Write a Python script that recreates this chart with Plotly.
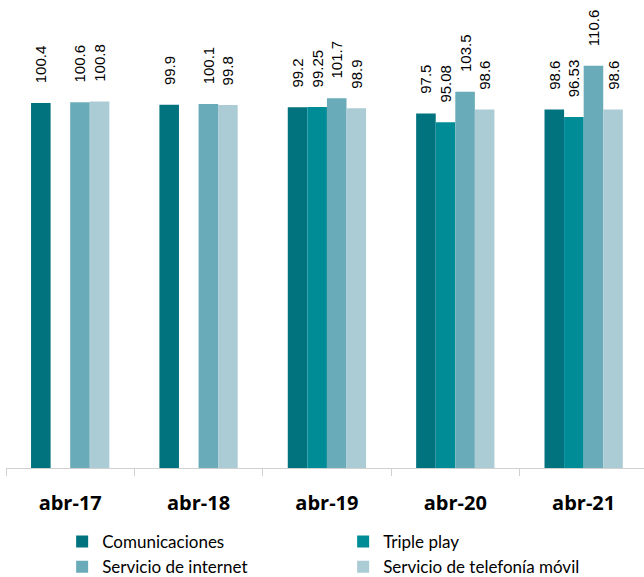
import plotly.graph_objects as go

categories = ["abr-17", "abr-18", "abr-19", "abr-20", "abr-21"]
series_names = ["Comunicaciones", "Triple play", "Servicio de internet", "Servicio de telefonía móvil"]
comunicaciones = [100.4, 99.9, 99.2, 97.5, 98.6]
triple_play = [None, None, 99.25, 95.08, 96.53]
internet = [100.6, 100.1, 101.7, 103.5, 110.6]
movil = [100.8, 99.8, 98.9, 98.6, 98.6]
labels = {
    "Comunicaciones": ["100.4", "99.9", "99.2", "97.5", "98.6"],
    "Triple play": ["", "", "99.25", "95.08", "96.53"],
    "Servicio de internet": ["100.6", "100.1", "101.7", "103.5", "110.6"],
    "Servicio de telefonía móvil": ["100.8", "99.8", "98.9", "98.6", "98.6"],
}
colors = ["#00737F", "#008C97", "#6AABB9", "#ABCCD5"]
values = [comunicaciones, triple_play, internet, movil]

PAD = "\u00a0" * 4  # leading space lifts the rotated label off the bar

fig = go.Figure()
for name, vals, col in zip(series_names, values, colors):
    fig.add_trace(go.Bar(
        x=categories, y=vals, name=name, marker_color=col,
        marker_line_width=0,
        text=[(PAD + t) if t else "" for t in labels[name]],
        textposition="outside", textangle=-90, constraintext="none",
        textfont=dict(family="Liberation Sans, Arial", size=15, color="#000000"),
        cliponaxis=False,
    ))

fig.update_layout(
    width=644, height=577,
    margin=dict(l=6, r=0, t=0, b=109),
    paper_bgcolor="white", plot_bgcolor="white",
    barmode="group", bargap=0.39, bargroupgap=0,
    showlegend=True,
    legend=dict(
        orientation="h", xref="paper", x=0.088, xanchor="left",
        yref="container", y=1 - 524 / 577, yanchor="top",
        entrywidth=236, entrywidthmode="pixels",
        font=dict(family="Lato, Open Sans", size=17, color="#000000"),
        itemwidth=30, tracegroupgap=0,
    ),
    xaxis=dict(
        range=[-0.5, 4.47], showline=True, linecolor="#D0D0D0", linewidth=1,
        ticks="outside", tickson="boundaries", ticklen=7, tickcolor="#D0D0D0",
        ticklabelstandoff=17,
        tickfont=dict(family="Open Sans, Liberation Sans", size=20, color="#000000", weight="bold"),
        showgrid=False, zeroline=False,
    ),
    yaxis=dict(range=[0, 128.7], visible=False, showgrid=False, zeroline=False),
)

fig.write_html("out.html")
